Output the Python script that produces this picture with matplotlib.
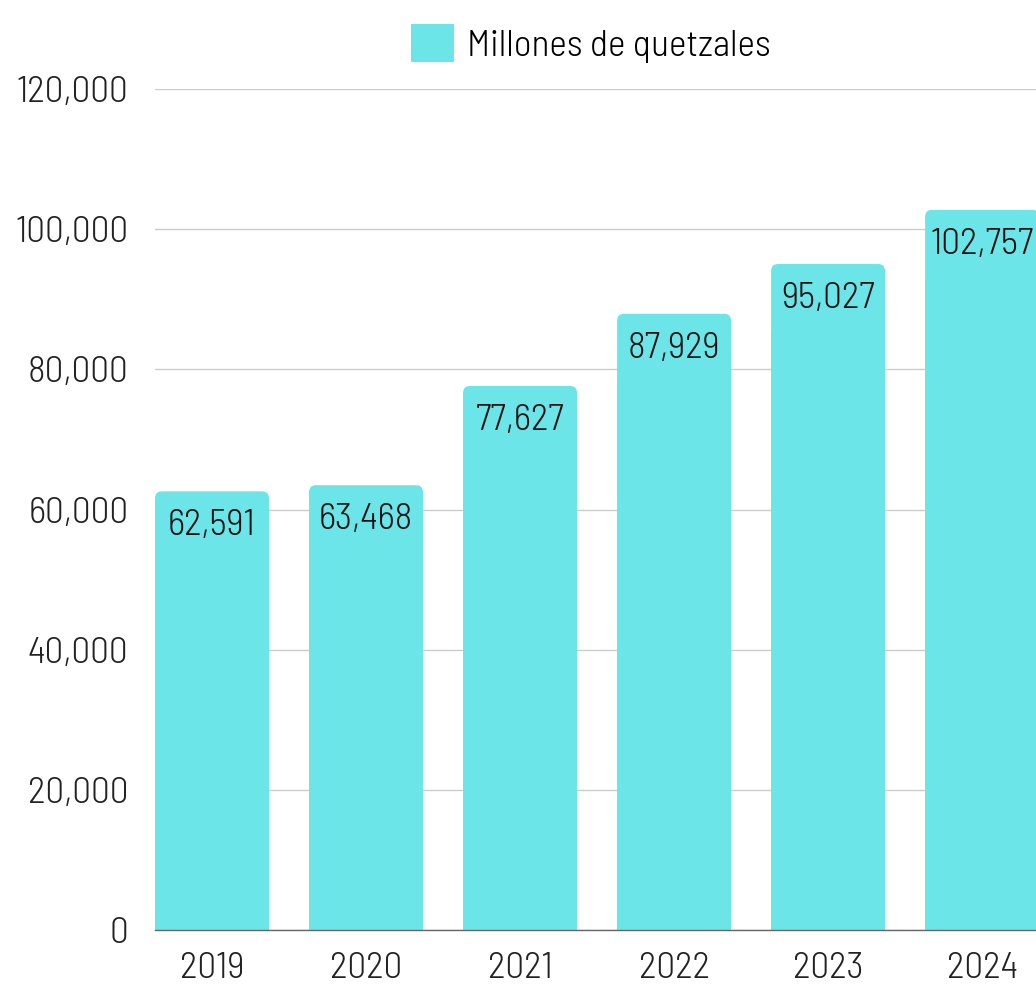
import matplotlib.pyplot as plt
from matplotlib.patches import FancyBboxPatch, Patch
from matplotlib.ticker import FuncFormatter

years = ['2019', '2020', '2021', '2022', '2023', '2024']
values = [62591, 63468, 77627, 87929, 95027, 102757]
series_name = 'Millones de quetzales'

plt.rcParams['font.family'] = ['Barlow Semi Condensed', 'Roboto Condensed', 'DejaVu Sans']
plt.rcParams['font.weight'] = 300
color = '#6ce5e8'
fs = 27

fig = plt.figure(figsize=(10.36, 9.84), dpi=100)
ax = fig.add_axes([155 / 1036, 54 / 984, 881 / 1036, 841 / 984])

width = 0.74
x = list(range(len(years)))
ax.set_xlim(-0.37, 5.35)
ax.set_ylim(0, 120000)

# rounded top corners: rounded box + plain rectangle over the lower part
aspect = (120000 / 841) * 154
for xi, v in zip(x, values):
    box = FancyBboxPatch((xi - width / 2, 0), width, v,
                         boxstyle='round,pad=0,rounding_size=0.045',
                         mutation_aspect=aspect, fc=color, ec='none', zorder=2)
    ax.add_patch(box)
    ax.bar(xi, v * 0.9, width=width, color=color, zorder=2)
    ax.annotate('{:,}'.format(v), (xi, v), xytext=(0, -13),
                textcoords='offset points', ha='center', va='top',
                fontsize=fs, color='#111111', zorder=3)

ax.set_xticks(x)
ax.set_xticklabels(years)
ax.set_yticks(range(0, 120001, 20000))
ax.yaxis.set_major_formatter(FuncFormatter(lambda v, p: '{:,}'.format(int(v))))
ax.tick_params(axis='both', length=0, labelsize=fs, colors='#222222')
ax.tick_params(axis='y', pad=19)
ax.tick_params(axis='x', pad=16)

ax.grid(axis='y', color='#cccccc', linewidth=1, zorder=0)
ax.set_axisbelow(True)
for s in ['top', 'right', 'left']:
    ax.spines[s].set_visible(False)
ax.spines['bottom'].set_color('#666666')
ax.spines['bottom'].set_linewidth(1)

handle = Patch(facecolor=color, edgecolor='none')
ax.legend([handle], [series_name], loc='lower center',
          bbox_to_anchor=(0.495, 1.0), frameon=False, fontsize=fs,
          handlelength=1.15, handleheight=1.15, handletextpad=0.35,
          borderaxespad=0.3)

fig.savefig('out.png', dpi=100)
